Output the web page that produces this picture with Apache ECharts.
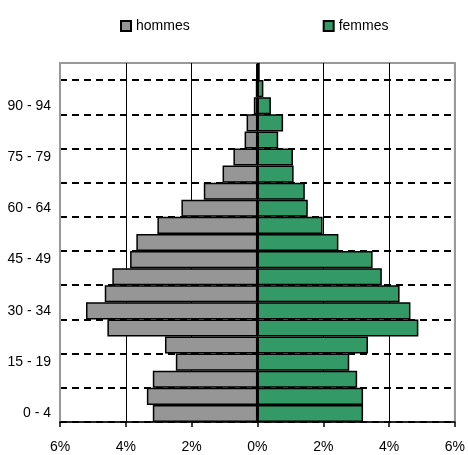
<!DOCTYPE html>
<html>
<head>
<meta charset="utf-8">
<script src="https://cdn.jsdelivr.net/npm/echarts@6/dist/echarts.min.js"></script>
<style>html,body{margin:0;padding:0;background:#fff}#c{width:468px;height:455px}</style>
</head>
<body>
<div id="c"></div>
<script>
var categories = ['0 - 4','5 - 9','10 - 14','15 - 19','20 - 24','25 - 29','30 - 34','35 - 39','40 - 44','45 - 49','50 - 54','55 - 59','60 - 64','65 - 69','70 - 74','75 - 79','80 - 84','85 - 89','90 - 94','95 - 99','100 +'];
var hommes = [3.18, 3.36, 3.18, 2.48, 2.81, 4.56, 5.21, 4.64, 4.41, 3.87, 3.68, 3.04, 2.31, 1.63, 1.06, 0.73, 0.39, 0.33, 0.11, 0.05, 0.04];
var femmes = [3.21, 3.21, 3.03, 2.79, 3.36, 4.89, 4.65, 4.32, 3.78, 3.50, 2.46, 1.98, 1.53, 1.44, 1.10, 1.08, 0.63, 0.78, 0.41, 0.18, 0.07];
var xTicks = [-6, -4, -2, 0, 2, 4, 6];

var font = "'Liberation Sans', Arial, sans-serif";
var chart = echarts.init(document.getElementById('c'));
var dashColors = [];
for (var i = 0; i < 11; i++) dashColors.push('#000');
dashColors.push('rgba(0,0,0,0)');
chart.setOption({
  animation: false,
  textStyle: {fontFamily: font},
  legend: {
    left: 115, top: 14,
    itemWidth: 10, itemHeight: 10, itemGap: 133,
    icon: 'rect',
    textStyle: {fontSize: 14, color: '#000', fontFamily: font},
    data: ['hommes', 'femmes']
  },
  grid: {left: 60, right: 11, top: 63, bottom: 33, show: true, borderColor: '#999', borderWidth: 2, backgroundColor: 'transparent'},
  xAxis: {
    type: 'value', min: xTicks[0], max: xTicks[xTicks.length - 1], interval: 2,
    axisLine: {show: true, onZero: false, lineStyle: {color: '#000', width: 1.5}},
    axisTick: {show: true, length: 5, lineStyle: {color: '#000', width: 1.5}},
    axisLabel: {margin: 18, fontSize: 14, color: '#000', fontFamily: font,
      formatter: function (v) { return Math.abs(v) + '%'; }},
    splitLine: {show: true, lineStyle: {color: ['#999', '#000', '#000', '#000', '#000', '#000', '#999'], width: 1}}
  },
  yAxis: {
    type: 'category', data: categories,
    axisLine: {show: false},
    axisTick: {show: false},
    axisLabel: {interval: 2, margin: 9, fontSize: 14, color: '#000', fontFamily: font},
    splitLine: {show: true, interval: 1, lineStyle: {color: dashColors, width: 2, type: [7, 5]}}
  },
  series: [
    {
      name: 'hommes', type: 'bar',
      data: hommes.map(function (v) { return -v; }),
      barGap: '-100%', barCategoryGap: '0%',
      itemStyle: {color: '#969696', borderColor: '#000', borderWidth: 1.5}
    },
    {
      name: 'femmes', type: 'bar',
      data: femmes,
      barGap: '-100%', barCategoryGap: '0%',
      itemStyle: {color: '#339966', borderColor: '#000', borderWidth: 1.5}
    }
  ]
});
</script>
</body>
</html>
